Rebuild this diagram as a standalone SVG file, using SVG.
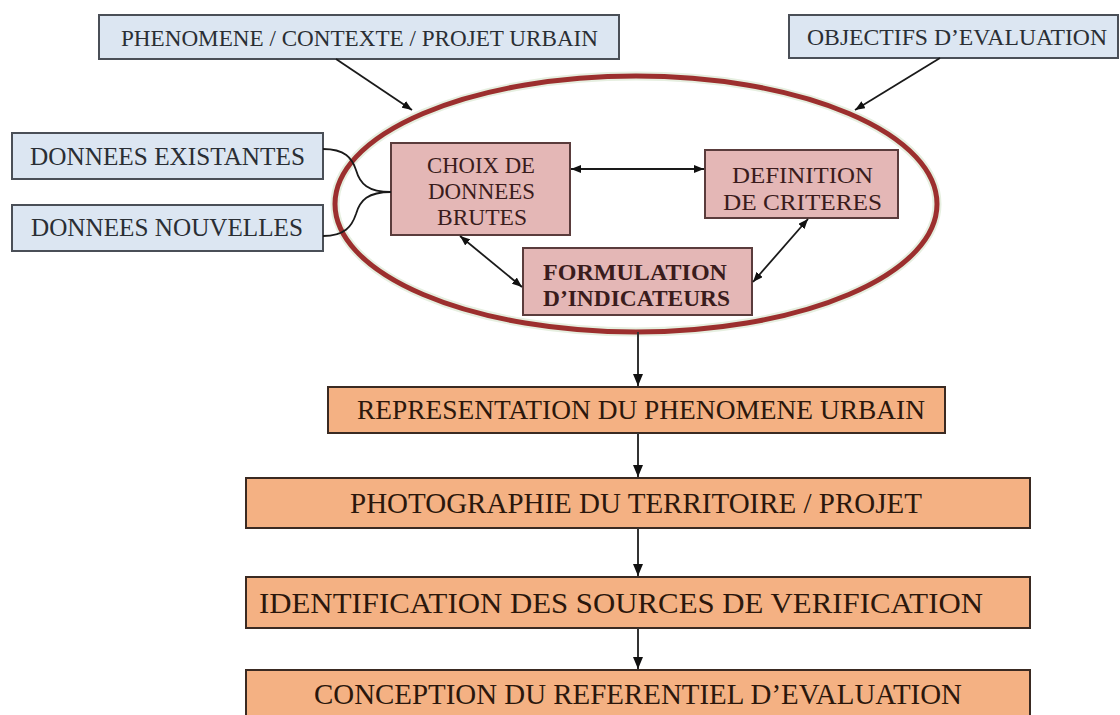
<svg xmlns="http://www.w3.org/2000/svg" width="1120" height="715" viewBox="0 0 1120 715">
  <defs>
    <marker id="arrow" viewBox="0 0 10 8" refX="10" refY="4" markerWidth="10" markerHeight="8" markerUnits="userSpaceOnUse" orient="auto-start-reverse">
      <path d="M0,0 L10,4 L0,8 z" fill="#111"/>
    </marker>
    <marker id="arrowBig" viewBox="0 0 12 10" refX="12" refY="5" markerWidth="12" markerHeight="10" markerUnits="userSpaceOnUse" orient="auto">
      <path d="M0,0 L12,5 L0,10 z" fill="#111"/>
    </marker>
    <style>
      .blue rect { fill: #dce6f2; stroke: #4a4f57; stroke-width: 2; }
      .blue text { fill: #2a2e34; font-family: "Liberation Serif", "DejaVu Serif", serif; text-anchor: middle; }
      .pink rect { fill: #e4b7b6; stroke: #5a3c3c; stroke-width: 2; }
      .pink text { fill: #3a1c1c; font-family: "Liberation Serif", "DejaVu Serif", serif; font-size: 24px; text-anchor: middle; }
      .orange rect { fill: #f4b183; stroke: #3a2a22; stroke-width: 2; }
      .orange text { fill: #2b170c; font-family: "Liberation Serif", "DejaVu Serif", serif; text-anchor: middle; }
      .conn { fill: none; stroke: #1a1a1a; stroke-width: 1.8; }
      .flow { fill: none; stroke: #333; stroke-width: 2; }
    </style>
  </defs>

  <rect width="1120" height="715" fill="#ffffff"/>

  <!-- process loop -->
  <g id="loop">
    <ellipse cx="636" cy="204" rx="301" ry="128" fill="none" stroke="#e6efe0" stroke-width="9"/>
    <ellipse cx="636" cy="204" rx="301" ry="128" fill="none" stroke="#9c2f2e" stroke-width="5"/>
  </g>

  <!-- inputs -->
  <g id="phenomene" class="blue">
    <rect x="99" y="15" width="520" height="44"/>
    <text x="359.5" y="46" font-size="24" textLength="477" lengthAdjust="spacingAndGlyphs">PHENOMENE / CONTEXTE / PROJET URBAIN</text>
  </g>
  <g id="objectifs" class="blue">
    <rect x="789" y="15" width="329" height="43"/>
    <text x="957" y="45" font-size="23" textLength="300" lengthAdjust="spacingAndGlyphs">OBJECTIFS D’EVALUATION</text>
  </g>
  <g id="existantes" class="blue">
    <rect x="12" y="133" width="311" height="46"/>
    <text x="167.5" y="165" font-size="26" textLength="275" lengthAdjust="spacingAndGlyphs">DONNEES EXISTANTES</text>
  </g>
  <g id="nouvelles" class="blue">
    <rect x="12" y="205" width="311" height="46"/>
    <text x="167" y="236" font-size="26" textLength="272" lengthAdjust="spacingAndGlyphs">DONNEES NOUVELLES</text>
  </g>

  <!-- loop steps -->
  <g id="choix" class="pink">
    <rect x="391" y="143" width="179" height="92"/>
    <text x="481" y="173" textLength="108" lengthAdjust="spacingAndGlyphs">CHOIX DE</text>
    <text x="481.5" y="199" textLength="107" lengthAdjust="spacingAndGlyphs">DONNEES</text>
    <text x="482" y="225" textLength="90" lengthAdjust="spacingAndGlyphs">BRUTES</text>
  </g>
  <g id="definition" class="pink">
    <rect x="705" y="150" width="193" height="68"/>
    <text x="802.5" y="183" textLength="141" lengthAdjust="spacingAndGlyphs">DEFINITION</text>
    <text x="802.5" y="210" textLength="159" lengthAdjust="spacingAndGlyphs">DE CRITERES</text>
  </g>
  <g id="formulation" class="pink">
    <rect x="523" y="248" width="229" height="67"/>
    <text x="635" y="280" font-size="24" font-weight="bold" textLength="184" lengthAdjust="spacingAndGlyphs">FORMULATION</text>
    <text x="636.5" y="306" font-size="24" font-weight="bold" textLength="187" lengthAdjust="spacingAndGlyphs">D’INDICATEURS</text>
  </g>

  <!-- outputs -->
  <g id="representation" class="orange">
    <rect x="328" y="387" width="617" height="46"/>
    <text x="641" y="419" font-size="27" textLength="568" lengthAdjust="spacingAndGlyphs">REPRESENTATION DU PHENOMENE URBAIN</text>
  </g>
  <g id="photographie" class="orange">
    <rect x="246" y="478" width="784" height="50"/>
    <text x="636" y="513" font-size="29" textLength="572" lengthAdjust="spacingAndGlyphs">PHOTOGRAPHIE DU TERRITOIRE / PROJET</text>
  </g>
  <g id="identification" class="orange">
    <rect x="246" y="577" width="784" height="51"/>
    <text x="621" y="613" font-size="30" textLength="724" lengthAdjust="spacingAndGlyphs">IDENTIFICATION DES SOURCES DE VERIFICATION</text>
  </g>
  <g id="conception" class="orange">
    <rect x="246" y="670" width="784" height="52"/>
    <text x="638" y="704" font-size="29" textLength="648" lengthAdjust="spacingAndGlyphs">CONCEPTION DU REFERENTIEL D’EVALUATION</text>
  </g>

  <!-- connectors -->
  <g id="connectors">
    <line class="conn" x1="336" y1="59" x2="412" y2="110" marker-end="url(#arrow)"/>
    <line class="conn" x1="940" y1="58" x2="855" y2="110" marker-end="url(#arrow)"/>
    <path class="conn" d="M323,149 C345,149 352,158 356,170 C360,184 368,192 391,192"/>
    <path class="conn" d="M323,236 C345,236 352,226 356,214 C360,200 368,192 391,192"/>
    <line class="conn" x1="571" y1="169" x2="704" y2="169" marker-start="url(#arrow)" marker-end="url(#arrow)"/>
    <line class="conn" x1="460" y1="236" x2="522" y2="287" marker-start="url(#arrow)" marker-end="url(#arrow)"/>
    <line class="conn" x1="808" y1="219" x2="753" y2="282" marker-start="url(#arrow)" marker-end="url(#arrow)"/>
    <line class="flow" x1="638" y1="332" x2="638" y2="386" marker-end="url(#arrowBig)"/>
    <line class="flow" x1="638" y1="433" x2="638" y2="477" marker-end="url(#arrowBig)"/>
    <line class="flow" x1="638" y1="528" x2="638" y2="576" marker-end="url(#arrowBig)"/>
    <line class="flow" x1="638" y1="628" x2="638" y2="669" stroke="#111" stroke-width="2.6" marker-end="url(#arrowBig)"/>
  </g>
</svg>
